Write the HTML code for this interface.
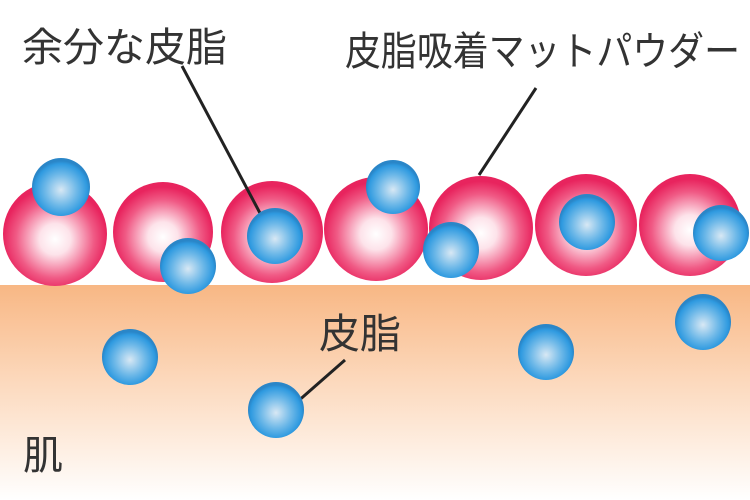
<!DOCTYPE html>
<html><head><meta charset="utf-8"><style>
html,body{margin:0;padding:0;background:#fff}
svg{display:block}
text{font-family:"Liberation Sans","Noto Sans CJK JP",sans-serif;fill:#333}
</style></head><body>
<svg width="750" height="500" viewBox="0 0 750 500">
<defs>
<linearGradient id="skin" x1="0" y1="0" x2="0" y2="1">
<stop offset="0" stop-color="#f8b784"/>
<stop offset="0.45" stop-color="#fcd9bd"/>
<stop offset="1" stop-color="#ffffff"/>
</linearGradient>
<radialGradient id="pink" cx="0.5" cy="0.55" r="0.5">
<stop offset="0" stop-color="#ffffff"/>
<stop offset="0.3" stop-color="#fde3ea"/>
<stop offset="0.75" stop-color="#f05a85"/>
<stop offset="1" stop-color="#e8245e"/>
</radialGradient>
<radialGradient id="blue" cx="0.5" cy="0.55" r="0.5">
<stop offset="0" stop-color="#d8e8f4"/>
<stop offset="0.55" stop-color="#6db8e8"/>
<stop offset="0.9" stop-color="#2f9ae0"/>
<stop offset="1" stop-color="#2a86c8"/>
</radialGradient>
</defs>
<rect x="0" y="285" width="750" height="215" fill="url(#skin)"/>
<g fill="url(#pink)">
<circle cx="55" cy="234" r="52"/>
<circle cx="163" cy="232" r="50"/>
<circle cx="272" cy="232" r="51"/>
<circle cx="376" cy="229" r="52"/>
<circle cx="481" cy="228" r="52"/>
<circle cx="586" cy="225" r="51"/>
<circle cx="690" cy="225" r="51"/>
</g>
<g stroke="#222" stroke-width="3" fill="none">
<line x1="182" y1="66" x2="261" y2="215"/>
<line x1="536" y1="88" x2="479" y2="175"/>
<line x1="345" y1="360" x2="280" y2="417"/>
</g>
<g fill="url(#blue)">
<circle cx="61" cy="187" r="29"/>
<circle cx="188" cy="266" r="28"/>
<circle cx="275" cy="236" r="28"/>
<circle cx="393" cy="187" r="27"/>
<circle cx="451" cy="250" r="28"/>
<circle cx="587" cy="222" r="28"/>
<circle cx="721" cy="233" r="28"/>
<circle cx="130" cy="357" r="28"/>
<circle cx="276" cy="410" r="28"/>
<circle cx="546" cy="352" r="28"/>
<circle cx="703" cy="322" r="28"/>
</g>
<text x="22" y="61" font-size="40" textLength="205" lengthAdjust="spacingAndGlyphs">余分な皮脂</text>
<text x="345" y="65" font-size="40" textLength="395" lengthAdjust="spacingAndGlyphs">皮脂吸着マットパウダー</text>
<text x="319" y="348" font-size="41">皮脂</text>
<text x="23" y="469" font-size="40">肌</text>
</svg>
</body></html>
